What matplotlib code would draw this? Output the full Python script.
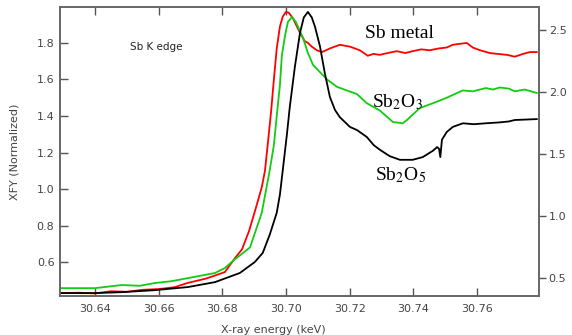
import numpy as np
import matplotlib
matplotlib.use("Agg")
from matplotlib import pyplot as plt

plt.rcParams['font.family'] = 'DejaVu Sans'
plt.rcParams['mathtext.fontset'] = 'stix'

# Sb metal (red)
metal_x = [30.629, 30.635, 30.640, 30.645, 30.650, 30.655, 30.660, 30.665, 30.669,
	30.675, 30.6808, 30.6840, 30.6862, 30.6884, 30.6906, 30.6924, 30.6934,
	30.6943, 30.6953, 30.6962, 30.6971, 30.6981, 30.6990, 30.7000, 30.7009,
	30.7022, 30.7044, 30.7059, 30.7069,
	30.7081, 30.7097, 30.7113, 30.7138, 30.7169, 30.7201, 30.7232, 30.7257,
	30.7275, 30.7295, 30.7320, 30.7348, 30.7375, 30.7398, 30.7425, 30.7452,
	30.7480, 30.7505, 30.7524, 30.7545, 30.7568, 30.7587, 30.7610, 30.7640,
	30.7665, 30.7694, 30.7719, 30.7745, 30.7766, 30.7788]
metal_y = [0.430, 0.432, 0.428, 0.440, 0.437, 0.448, 0.452, 0.462, 0.485,
	0.510, 0.545, 0.622, 0.670, 0.770, 0.900, 1.010, 1.100,
	1.250, 1.420, 1.600, 1.770, 1.890, 1.945, 1.970, 1.965,
	1.935, 1.855, 1.810, 1.800,
	1.780, 1.760, 1.750, 1.770, 1.790, 1.780, 1.760, 1.730,
	1.740, 1.735, 1.745, 1.755, 1.745, 1.755, 1.765, 1.760,
	1.770, 1.775, 1.790, 1.795, 1.800, 1.775, 1.760, 1.745,
	1.740, 1.735, 1.725, 1.740, 1.750, 1.750]

# Sb2O3 (green)
o3_x = [30.629, 30.640, 30.6484, 30.6540, 30.6588, 30.6640, 30.6692, 30.6777,
	30.6808, 30.6836, 30.6887, 30.6924, 30.6949, 30.6962, 30.6971, 30.6981,
	30.6987, 30.6997, 30.7006, 30.7019, 30.7031, 30.7053, 30.7069, 30.7085,
	30.7107, 30.7129, 30.7160,
	30.7191, 30.7223, 30.7254, 30.7295, 30.7336, 30.7367, 30.7380, 30.7421,
	30.7462, 30.7505, 30.7530, 30.7556, 30.7587, 30.7628, 30.7650, 30.7672,
	30.7700, 30.7719, 30.7750, 30.7788]
o3_y = [0.457, 0.457, 0.474, 0.470, 0.485, 0.495, 0.512, 0.540,
	0.567, 0.610, 0.680, 0.870, 1.104, 1.240, 1.400, 1.570,
	1.730, 1.840, 1.915, 1.942, 1.915, 1.830, 1.745, 1.680,
	1.640, 1.600, 1.560,
	1.540, 1.520, 1.470, 1.430, 1.367, 1.360, 1.378, 1.444,
	1.470, 1.500, 1.520, 1.540, 1.535, 1.553, 1.545, 1.556,
	1.550, 1.535, 1.545, 1.526]

# Sb2O5 (black)
o5_x = [30.629, 30.640, 30.6484, 30.6588, 30.6692, 30.6777, 30.6855, 30.6902,
	30.6927, 30.6949, 30.6971, 30.6981, 30.6990, 30.7003, 30.7012, 30.7028,
	30.7044, 30.7056, 30.7069, 30.7081, 30.7091,
	30.7107, 30.7122, 30.7138, 30.7154, 30.7169, 30.7201, 30.7223, 30.7254,
	30.7276, 30.7295, 30.7326, 30.7358, 30.7398, 30.7430, 30.7462, 30.7475,
	30.7481, 30.7485, 30.7490, 30.7505, 30.7524, 30.7556, 30.7590, 30.7628,
	30.7672, 30.7700, 30.7719, 30.7788]
o5_y = [0.430, 0.430, 0.435, 0.446, 0.463, 0.490, 0.540, 0.600,
	0.650, 0.750, 0.870, 0.970, 1.104, 1.300, 1.450, 1.670,
	1.855, 1.940, 1.970, 1.940, 1.890,
	1.780, 1.635, 1.504, 1.433, 1.394, 1.340, 1.323, 1.285,
	1.240, 1.215, 1.180, 1.160, 1.160, 1.175, 1.210, 1.230,
	1.220, 1.175, 1.270, 1.312, 1.340, 1.360, 1.355, 1.360,
	1.365, 1.370, 1.378, 1.383]

fig = plt.figure(figsize = (5.72, 3.35), dpi = 100)
ax = fig.add_axes([60/572., 1 - 296/335., 479/572., 289/335.])

ax.plot(metal_x, metal_y, color = '#ff0000', lw = 1.3)
ax.plot(o3_x, o3_y, color = '#11cc11', lw = 1.3)
ax.plot(o5_x, o5_y, color = 'black', lw = 1.3)

ax.set_xlim(30.629, 30.7795)
ax.set_ylim(0.414, 1.997)
ax.set_xticks([30.64, 30.66, 30.68, 30.70, 30.72, 30.74, 30.76])
ax.set_yticks([0.6, 0.8, 1.0, 1.2, 1.4, 1.6, 1.8])
ax.tick_params(direction = 'in', length = 6, width = 1, colors = '#555555',
	labelcolor = '#444444', labelsize = 8, top = True, pad = 4)
ax.tick_params(axis = 'x', pad = 6)
for s in ax.spines.values():
	s.set_color('#666666')
	s.set_linewidth(1.2)

# right axis
ax2 = ax.twinx()
ax2.set_ylim(0.355, 2.685)
ax2.set_yticks([0.5, 1.0, 1.5, 2.0, 2.5])
ax2.tick_params(direction = 'out', length = 5, width = 1, colors = '#555555',
	labelcolor = '#444444', labelsize = 8, pad = 2)
for s in ax2.spines.values():
	s.set_color('#666666')
	s.set_linewidth(1.2)

fig.text(273/572., 1 - 330/335., 'X-ray energy (keV)', ha = 'center', va = 'center',
	fontsize = 8, color = '#444444')
fig.text(15/572., 1 - 152/335., 'XFY (Normalized)', ha = 'center', va = 'center',
	rotation = 90, fontsize = 8, color = '#444444')
fig.text(156/572., 1 - 47/335., 'Sb K edge', ha = 'center', va = 'center',
	fontsize = 7.5, color = '#222222')

serif = 'Liberation Serif'
fig.text(399/572., 1 - 33/335., 'Sb metal', ha = 'center', va = 'center',
	fontsize = 14, family = serif)
fig.text(397/572., 1 - 102/335., 'Sb$_2$O$_3$', ha = 'center', va = 'center',
	fontsize = 14, family = serif)
fig.text(401/572., 1 - 175/335., 'Sb$_2$O$_5$', ha = 'center', va = 'center',
	fontsize = 14, family = serif)

plt.savefig('out.png', dpi = 100)
